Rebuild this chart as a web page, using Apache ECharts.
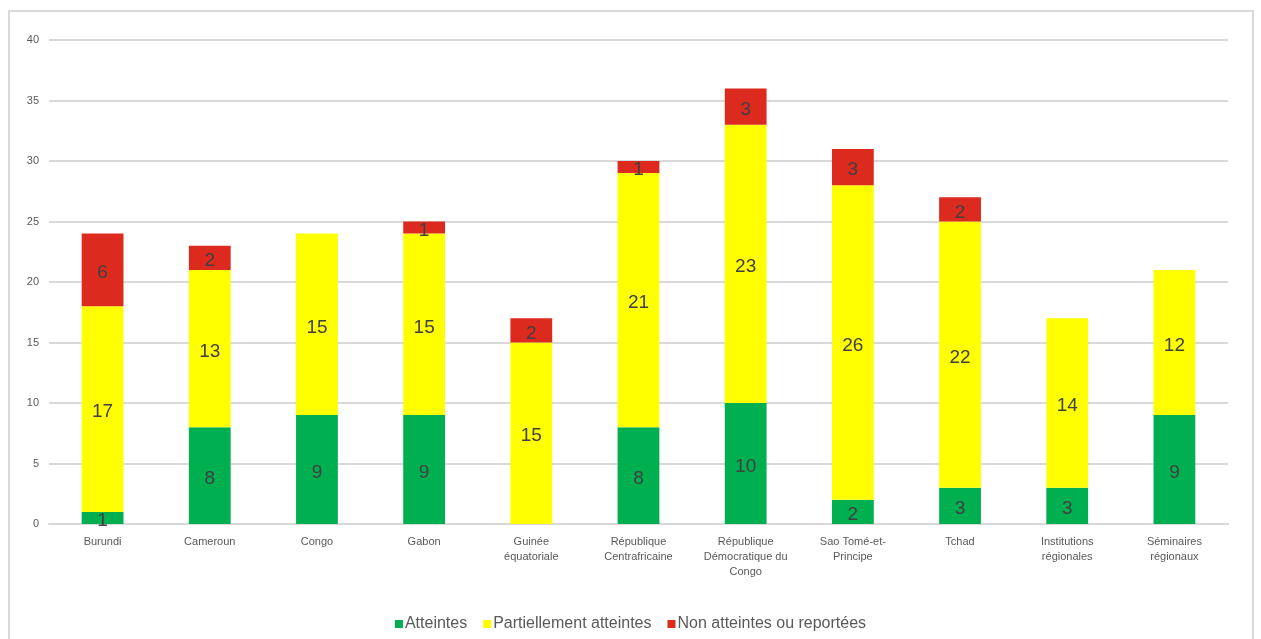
<!DOCTYPE html>
<html><head><meta charset="utf-8">
<script src="https://cdn.jsdelivr.net/npm/echarts@6/dist/echarts.min.js"></script>
<style>
html,body{margin:0;padding:0;background:#fff;overflow:hidden}
#frame{position:absolute;left:8px;top:10px;width:1246px;height:640px;border:2px solid #d9d9d9;box-sizing:border-box}
#c{position:absolute;left:0;top:0;width:1261px;height:639px}
</style></head>
<body>
<div id="frame"></div>
<div id="c"></div>
<script>
var categories = ['Burundi','Cameroun','Congo','Gabon','Guinée\néquatoriale','République\nCentrafricaine','République\nDémocratique du\nCongo','Sao Tomé-et-\nPrincipe','Tchad','Institutions\nrégionales','Séminaires\nrégionaux'];
var atteintes = [1, 8, 9, 9, 0, 8, 10, 2, 3, 3, 9];
var partielles = [17, 13, 15, 15, 15, 21, 23, 26, 22, 14, 12];
var nonAtteintes = [6, 2, 0, 1, 2, 1, 3, 3, 2, 0, 0];
var yTicks = [0, 5, 10, 15, 20, 25, 30, 35, 40];

var chart = echarts.init(document.getElementById('c'));
var lbl = {show:true, position:'inside', color:'#404040', fontSize:19, offset:[0,3], fontFamily:'Liberation Sans, Arial, sans-serif',
  formatter:function(p){return p.value===0?'':p.value;}};
function s(name, data, color){
  return {name:name, type:'bar', stack:'t', data:data, barWidth:'39%', itemStyle:{color:color}, label:lbl};
}
chart.setOption({
  animation:false,
  textStyle:{fontFamily:'Liberation Sans, Arial, sans-serif'},
  grid:{left:49, right:33, top:40, bottom:115},
  legend:{bottom:2, left:'center', itemWidth:8, itemHeight:8, itemGap:16, icon:'rect',
    textStyle:{color:'#595959', fontSize:16, padding:[0,0,0,-3]}},
  xAxis:{type:'category', data:categories,
    axisLine:{lineStyle:{color:'#d9d9d9', width:2}}, axisTick:{show:false},
    axisLabel:{color:'#595959', fontSize:11, interval:0, lineHeight:15, margin:10}},
  yAxis:{type:'value', min:0, max:40, interval:5,
    axisLine:{show:false}, axisTick:{show:false},
    axisLabel:{color:'#595959', fontSize:11, margin:10},
    splitLine:{lineStyle:{color:'#d9d9d9', width:2}}},
  series:[
    s('Atteintes', atteintes, '#00b050'),
    s('Partiellement atteintes', partielles, '#ffff00'),
    s('Non atteintes ou reportées', nonAtteintes, '#dc2a1e')
  ]
});
</script>
</body></html>
